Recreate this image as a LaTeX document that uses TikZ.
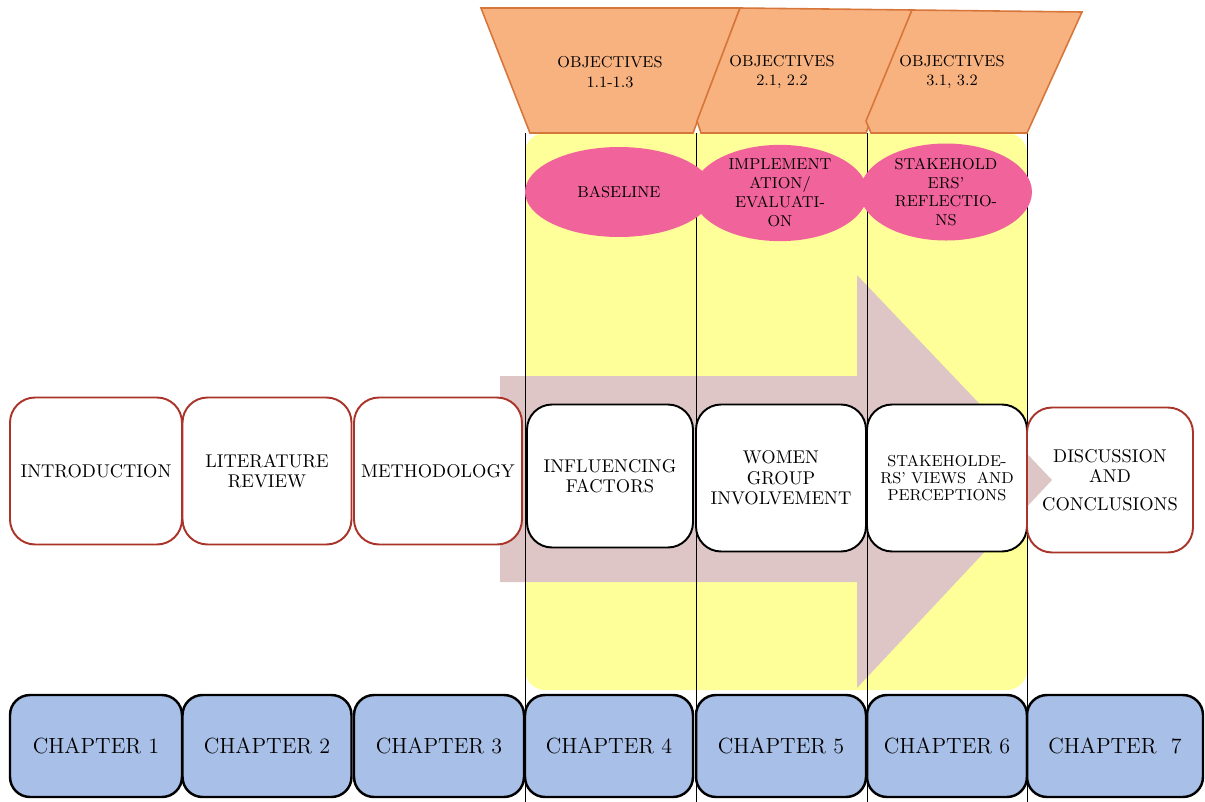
\documentclass[tikz,border=0pt]{standalone}
\usetikzlibrary{shapes.geometric}

\definecolor{objfill}{RGB}{248,178,128}
\definecolor{objline}{RGB}{214,118,58}
\definecolor{phasepink}{RGB}{240,100,155}
\definecolor{bandyellow}{RGB}{255,255,153}
\definecolor{flowpink}{RGB}{221,198,197}
\definecolor{boxred}{RGB}{170,52,42}
\definecolor{chapblue}{RGB}{168,191,231}

\tikzset{
  objtrap/.style={fill=objfill, draw=objline, line width=0.9pt},
  objtext/.style={align=center, font=\fontsize{9}{11}\selectfont},
  phase/.style={ellipse, fill=phasepink, inner sep=0pt, align=center,
    font=\fontsize{9}{10.8}\selectfont},
  topic/.style={rectangle, rounded corners=0.5cm, draw=boxred, line width=1.1pt,
    fill=white, align=center, inner sep=1pt, font=\fontsize{10.5}{11.6}\selectfont},
  finding/.style={topic, draw=black},
  chapter/.style={rectangle, rounded corners=0.4cm, draw=black, line width=1.4pt,
    fill=chapblue, minimum height=2.04cm, font=\fontsize{12.5}{14}\selectfont},
}

\begin{document}
\begin{tikzpicture}[x=0.02cm, y=-0.02cm]
  \useasboundingbox (0,0) rectangle (1205,802);

  % yellow band behind chapters 4-6
  \fill[bandyellow, rounded corners=0.4cm] (525,133) rectangle (1027,690);

  % big flow arrow
  \fill[flowpink] (500,376) -- (857,376) -- (857,275) -- (1052,480)
    -- (857,688) -- (857,582) -- (500,582) -- cycle;

  % column lines
  \foreach \x/\n in {525/a, 696/b, 867/c, 1027/d} {
    \coordinate (top\n) at (\x,133);
    \coordinate (bot\n) at (\x,802);
    \draw[line width=0.5pt] (top\n) -- (bot\n);
  }

  % objectives
  \draw[objtrap] (481,8) -- (740,8) -- (693,133) -- (530,133) -- cycle;
  \draw[objtrap] (740,8) -- (912,10) -- (866,133) -- (701,133) -- (697,121) -- cycle;
  \draw[objtrap] (912,10) -- (1082,12) -- (1027,133) -- (871,133) -- (866,121) -- cycle;
  \node[objtext] (obj1) at (610,72) {OBJECTIVES\\1.1-1.3};
  \node[objtext] (obj2) at (782,72) {OBJECTIVES\\2.1, 2.2};
  \node[objtext] (obj3) at (952,72) {OBJECTIVES\\3.1, 3.2};

  % phases
  \node[phase, minimum width=3.76cm, minimum height=1.8cm] (base) at (619,192) {BASELINE};
  \node[phase, minimum width=3.5cm, minimum height=1.84cm] (impl) at (780,193)
    {IMPLEMENT\\ATION/\\EVALUATI-\\ON};
  \node[phase, minimum width=3.44cm, minimum height=1.8cm] (refl) at (946,192)
    {STAKEHOLD\\ERS'\\REFLECTIO-\\NS};

  % topics
  \node[topic, minimum width=3.44cm, minimum height=2.94cm] (intro) at (96,471) {INTRODUCTION};
  \node[topic, minimum width=3.38cm, minimum height=2.94cm] (litrev) at (267,471) {LITERATURE\\REVIEW};
  \node[topic, minimum width=3.36cm, minimum height=2.94cm] (method) at (438,471) {METHODOLOGY};
  \node[finding, minimum width=3.32cm, minimum height=2.86cm] (influ) at (610,476) {INFLUENCING\\FACTORS};
  \node[finding, minimum width=3.4cm, minimum height=2.94cm] (women) at (781,478) {WOMEN\\GROUP\\INVOLVEMENT};
  \node[finding, minimum width=3.2cm, minimum height=2.94cm,
    font=\fontsize{9}{9.4}\selectfont] (views) at (947,478) {STAKEHOLDE-\\RS' VIEWS\ \ AND\\PERCEPTIONS};
  \node[topic, fill=none, minimum width=3.32cm, minimum height=2.9cm] (discuss) at (1110,480)
    {DISCUSSION\\AND\\[4pt]CONCLUSIONS};

  % chapters
  \node[chapter, minimum width=3.44cm] (ch1) at (96,746) {CHAPTER 1};
  \node[chapter, minimum width=3.38cm] (ch2) at (267,746) {CHAPTER 2};
  \node[chapter, minimum width=3.4cm] (ch3) at (439,746) {CHAPTER 3};
  \node[chapter, minimum width=3.36cm] (ch4) at (609,746) {CHAPTER 4};
  \node[chapter, minimum width=3.4cm] (ch5) at (781,746) {CHAPTER 5};
  \node[chapter, minimum width=3.2cm] (ch6) at (947,746) {CHAPTER 6};
  \node[chapter, minimum width=3.52cm] (ch7) at (1115,746) {CHAPTER\ \ 7};
\end{tikzpicture}
\end{document}
